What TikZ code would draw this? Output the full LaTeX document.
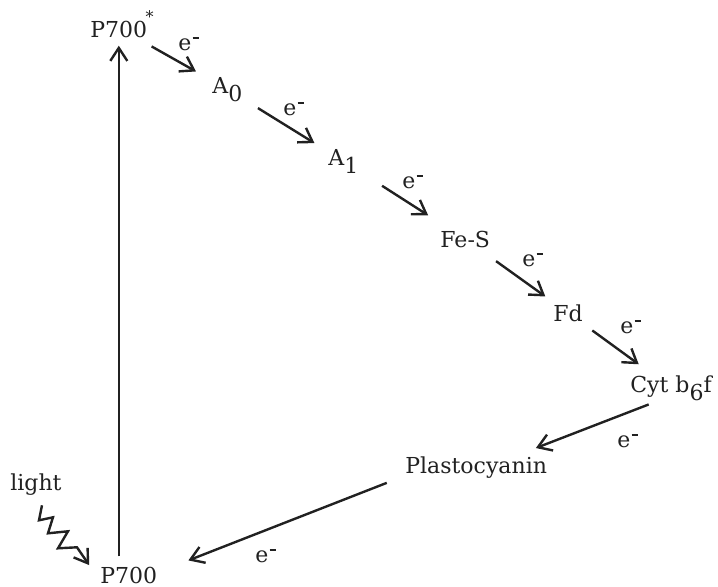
\documentclass[tikz,border=0pt]{standalone}
\usepackage{fontspec}
\setmainfont{DejaVu Serif}
\usetikzlibrary{arrows.meta, calc}
\definecolor{InkBlack}{rgb}{0.13, 0.13, 0.13}

\newcommand{\lowsub}[1]{\raisebox{-4pt}{#1}}
\newcommand{\elec}{e\kern0.6pt\rule[5.6pt]{3.4pt}{1pt}}

\begin{document}
\begin{tikzpicture}[
    x=0.5pt, y=-0.5pt,
    font=\fontsize{11}{13}\selectfont,
    carrier/.style={anchor=base west, inner sep=2pt, text=InkBlack},
    elabel/.style={anchor=base west, inner sep=0pt, text=InkBlack},
    flow/.style={-{Straight Barb[length=6.5pt, width=8.5pt]}, line width=1.2pt, InkBlack},
]
\useasboundingbox (0,0) rectangle (718,586);

% ============ carriers ============
\node[carrier] (p700s)  at (86,37)   {P700\kern-0.8pt\raisebox{7.5pt}{\footnotesize *}};
\node[carrier] (a0)     at (208,93)  {A\lowsub{0}};
\node[carrier] (a1)     at (324,165) {A\lowsub{1}};
\node[carrier] (fes)    at (436,247) {Fe-S};
\node[carrier] (fd)     at (549,321) {Fd};
\node[carrier] (cyt)    at (626,392) {Cyt b\lowsub{6}f};
\node[carrier] (plasto) at (401,473) {Plastocyanin};
\node[carrier] (p700)   at (96,583)  {P700};
\node[carrier] (light)  at (6,490)   {light};

% ============ electron path ============
\draw[flow, shorten <=17pt, shorten >=18pt] ([yshift=-3pt]p700s.center) -- (a0.center);
\draw[flow, shorten <=18pt, shorten >=17pt] (a0.center) -- (a1.center);
\draw[flow, shorten <=23pt, shorten >=22pt] (a1.center) -- (fes.center);
\draw[flow, shorten <=19pt, shorten >=14pt] (fes.center) -- (fd.center);
\draw[flow, shorten <=15pt, shorten >=20pt] (fd.center) -- (cyt.center);
\draw[flow, shorten <=12pt, shorten >=32pt]
    ([yshift=-4pt]cyt.center) -- ([yshift=-2pt]plasto.center);
\draw[flow, shorten <=48pt, shorten >=32pt]
    ([yshift=2pt]plasto.north) -- ([yshift=2pt]p700.south);

% excitation
\draw[flow, shorten <=3pt, shorten >=2pt]
    ([xshift=-5pt]p700.north) -- ([xshift=-5pt]p700.north |- p700s.south);

% light
\draw[flow, miter limit=8, shorten >=6pt]
    ([shift={(6,6)}]light.south) -- ++(-3,15) -- ++(14,-3) -- ++(-5,16)
    -- ++(20,-2) -- ++(-10,17) -- ++(19,-1) -- (p700.west);

% ============ e- labels ============
\node[elabel] (e1) at (178,50)  {\elec};
\node[elabel] (e2) at (283,115) {\elec};
\node[elabel] (e3) at (402,188) {\elec};
\node[elabel] (e4) at (522,266) {\elec};
\node[elabel] (e5) at (620,333) {\elec};
\node[elabel] (e6) at (617,447) {\elec};
\node[elabel] (e7) at (255,562) {\elec};

\end{tikzpicture}
\end{document}
